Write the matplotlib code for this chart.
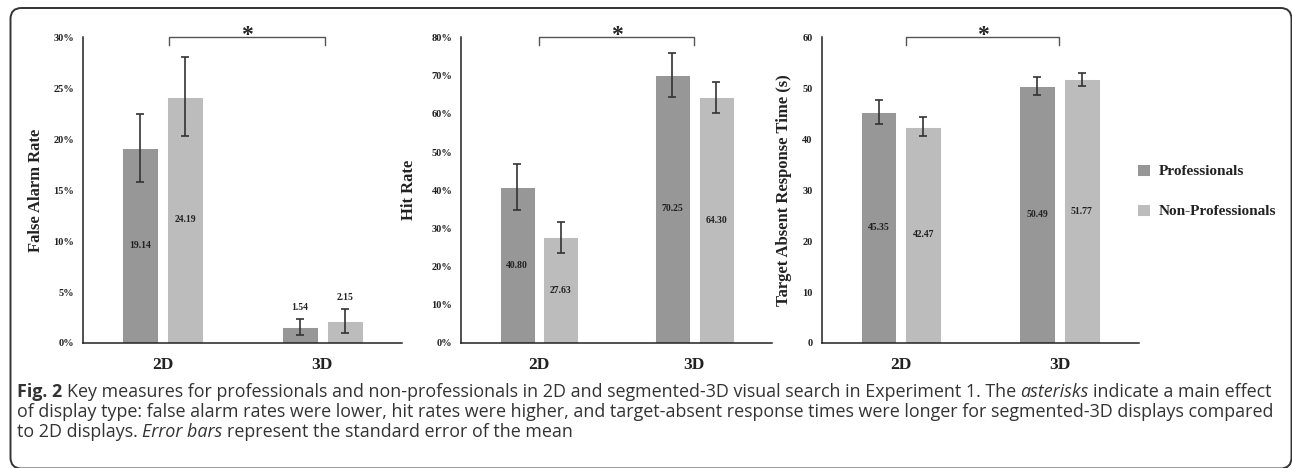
import numpy as np
import matplotlib
matplotlib.use("Agg")
import matplotlib.pyplot as plt
from matplotlib.patches import FancyBboxPatch
from matplotlib.transforms import IdentityTransform
from matplotlib.ticker import FuncFormatter

# data
groups = ["2D", "3D"]
series = ["Professionals", "Non-Professionals"]

fa_pro = [19.14, 1.54]
fa_non = [24.19, 2.15]
fa_pro_se = [3.3, 0.78]
fa_non_se = [3.9, 1.15]

hit_pro = [40.80, 70.25]
hit_non = [27.63, 64.30]
hit_pro_se = [6.0, 5.8]
hit_non_se = [3.95, 4.0]

rt_pro = [45.35, 50.49]
rt_non = [42.47, 51.77]
rt_pro_se = [2.4, 1.7]
rt_non_se = [1.9, 1.25]

ylabels = ["False Alarm Rate", "Hit Rate", "Target Absent Response Time (s)"]
ymax = [30, 80, 60]
ystep = [5, 10, 10]
percent = [True, True, False]

caption = [
    [("Fig. 2", "b"),
     ("Key measures for professionals and non-professionals in 2D and segmented-3D visual search in Experiment 1. The", "n"),
     ("asterisks", "i"), ("indicate a main effect", "n")],
    [("of display type: false alarm rates were lower, hit rates were higher, and target-absent response times were longer for segmented-3D displays compared", "n")],
    [("to 2D displays.", "n"), ("Error bars", "i"), ("represent the standard error of the mean", "n")],
]

c_pro = "#979797"
c_non = "#bcbcbc"
ink = "#222222"
serif = "Liberation Serif"

W, H = 1292, 468
fig = plt.figure(figsize=(W / 100, H / 100), dpi=100)

# axes boxes in pixels: left, right
boxes = [(83, 402), (461.3, 772), (821.7, 1138.7)]
top_px, bot_px = 37.5, 343
label_x = [-0.123, -0.143, -0.094]
bracket = [(0.04, 1.02), (0.0, 1.0), (0.03, 1.0)]

panels = [
    (fa_pro, fa_non, fa_pro_se, fa_non_se),
    (hit_pro, hit_non, hit_pro_se, hit_non_se),
    (rt_pro, rt_non, rt_pro_se, rt_non_se),
]

x = np.arange(len(groups))
bw = 0.225
off = 0.141

axes = []
for i, (pro, non, pro_se, non_se) in enumerate(panels):
    l, r = boxes[i]
    ax = fig.add_axes([l / W, (H - bot_px) / H, (r - l) / W, (bot_px - top_px) / H])
    axes.append(ax)
    for vals, errs, col, sgn, name in [(pro, pro_se, c_pro, -1, series[0]),
                                        (non, non_se, c_non, 1, series[1])]:
        xs = x + sgn * off
        ax.bar(xs, vals, bw, color=col, edgecolor="white", linewidth=0.7, label=name, zorder=2)
        ax.errorbar(xs, vals, yerr=errs, fmt="none", ecolor="#333333", elinewidth=1.2,
                    capsize=2.6, capthick=1.2, zorder=3)
        for xv, v, e in zip(xs, vals, errs):
            if v < ymax[i] * 0.15:
                ax.annotate(f"{v:.2f}", (xv, v + e), xytext=(0, 5), textcoords="offset points",
                            ha="center", va="bottom", fontsize=7, fontweight="bold",
                            family=serif, color=ink)
            else:
                ax.text(xv, v / 2, f"{v:.2f}", ha="center", va="center", fontsize=7,
                        fontweight="bold", family=serif, color=ink)

    ax.set_xlim(-0.5, 1.5)
    ax.set_ylim(0, ymax[i])
    ax.set_yticks(np.arange(0, ymax[i] + 0.1, ystep[i]))
    if percent[i]:
        ax.yaxis.set_major_formatter(FuncFormatter(lambda v, p: f"{v:.0f}%"))
    ax.set_xticks(x)
    ax.set_xticklabels(groups)
    for s in ["top", "right"]:
        ax.spines[s].set_visible(False)
    for s in ["left", "bottom"]:
        ax.spines[s].set_color(ink)
        ax.spines[s].set_linewidth(1.1)
    ax.tick_params(axis="both", length=0)
    ax.tick_params(axis="y", pad=6.5)
    ax.tick_params(axis="x", pad=10)
    for t in ax.get_yticklabels():
        t.set_fontsize(7.5)
        t.set_fontweight("bold")
        t.set_family(serif)
        t.set_color(ink)
    for t in ax.get_xticklabels():
        t.set_fontsize(12.5)
        t.set_fontweight("bold")
        t.set_family(serif)
        t.set_color(ink)
    ax.set_ylabel(ylabels[i], fontsize=12, fontweight="bold", family=serif, color=ink)
    ax.yaxis.set_label_coords(label_x[i], 0.5)

    # significance bracket
    b0, b1 = bracket[i]
    yb = ymax[i]
    tick = ymax[i] * 0.025
    ax.plot([b0, b0, b1, b1], [yb - tick, yb, yb, yb - tick], color="#555555", lw=1.0,
            clip_on=False, zorder=4)
    ax.annotate("*", ((b0 + b1) / 2, yb), xytext=(0, -4), textcoords="offset pixels",
                ha="center", va="baseline", fontsize=17, fontweight="bold",
                family=serif, color=ink, annotation_clip=False)

h, lab = axes[2].get_legend_handles_labels()
leg = fig.legend(h, lab, loc="upper left", bbox_to_anchor=(1137 / W, 1 - 164 / H),
                 frameon=False, handlelength=0.85, handleheight=0.85, handletextpad=0.6,
                 labelspacing=1.65, borderpad=0, borderaxespad=0,
                 prop={"family": serif, "weight": "bold", "size": 11})
for t in leg.get_texts():
    t.set_color(ink)

# rounded frame around the figure
frame = FancyBboxPatch((10.5, -0.5), 1281, 460.5, boxstyle="round,pad=0,rounding_size=11",
                       transform=IdentityTransform(), fill=False, ec="#333333", lw=1.4)
fig.add_artist(frame)

# caption
cap_font = "Open Sans"
cap_size = 12.9
baselines = [71, 51, 31]
for line, yb in zip(caption, baselines):
    prev = None
    for txt, st in line:
        kw = dict(fontsize=cap_size, family=cap_font, color="#333333")
        if st == "b":
            kw["fontweight"] = "bold"
        if st == "i":
            kw["fontstyle"] = "italic"
        if prev is None:
            prev = fig.text(17, yb, txt, transform=IdentityTransform(), ha="left",
                            va="baseline", **kw)
        else:
            prev = axes[0].annotate(txt, xy=(1, 0), xycoords=prev, xytext=(4.4, 0),
                                    textcoords="offset pixels", ha="left", va="bottom",
                                    annotation_clip=False, **kw)

fig.savefig("out.png", dpi=100)
